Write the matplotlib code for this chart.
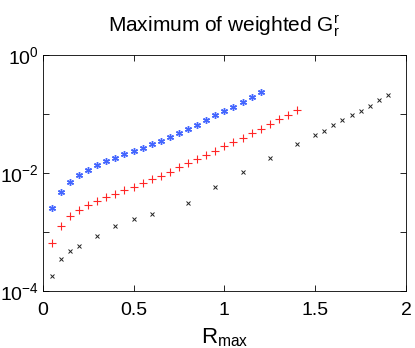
import numpy as np
import matplotlib.pyplot as plt
from matplotlib.ticker import NullLocator

plt.rcParams['font.family'] = ['Liberation Sans', 'DejaVu Sans']
plt.rcParams['mathtext.default'] = 'regular'

# blue series (*)
rBlue = [0.05 * i for i in range(1, 25)]
gBlue = [2.51e-3, 4.81e-3, 7.1e-3, 9.2e-3, 1.145e-2, 1.36e-2, 1.58e-2, 1.83e-2,
         2.08e-2, 2.37e-2, 2.70e-2, 3.11e-2, 3.54e-2, 4.03e-2, 4.84e-2, 5.51e-2,
         6.6e-2, 7.9e-2, 9.5e-2, 0.1124, 0.133, 0.160, 0.191, 0.232]

# red series (+)
rRed = [0.05 * i for i in range(1, 29)]
gRed = [6.6e-4, 1.28e-3, 1.86e-3, 2.38e-3, 2.90e-3, 3.39e-3, 3.91e-3, 4.45e-3,
        5.06e-3, 5.77e-3, 6.65e-3, 7.77e-3, 8.96e-3, 1.06e-2, 1.24e-2, 1.47e-2,
        1.73e-2, 2.03e-2, 2.40e-2, 2.84e-2, 3.37e-2, 3.98e-2, 4.71e-2, 5.57e-2,
        6.78e-2, 8.13e-2, 9.75e-2, 0.117]

# black series (x)
rBlack = [0.05, 0.1, 0.15, 0.2, 0.3, 0.4, 0.5, 0.6, 0.8, 0.95, 1.1, 1.25, 1.4,
          1.5, 1.55, 1.6, 1.65, 1.7, 1.75, 1.8, 1.85, 1.9]
gBlack = [1.83e-4, 3.45e-4, 4.84e-4, 5.87e-4, 8.67e-4, 1.26e-3, 1.66e-3, 1.99e-3,
          3.05e-3, 5.84e-3, 1.05e-2, 1.83e-2, 3.07e-2, 4.35e-2, 5.22e-2, 6.43e-2,
          7.81e-2, 9.49e-2, 0.1138, 0.138, 0.170, 0.212]

yTicks = [1e-4, 1e-3, 1e-2, 1e-1, 1]
yTickLabels = ['10$^{-4}$', '', '10$^{-2}$', '', '10$^{0}$']
xTicks = [0, 0.5, 1, 1.5, 2]
xTickLabels = ['0', '0.5', '1', '1.5', '2']

fig = plt.figure(figsize=(4.15, 3.48), dpi=100)
ax = fig.add_axes([42.7 / 415, 1 - 291 / 348, (406 - 42.7) / 415, (291 - 55) / 348])

ax.plot(rBlue, gBlue, linestyle='none', marker=(6, 2, 0), color='#4466ff', markersize=5, markeredgewidth=1.0)
ax.plot(rRed, gRed, linestyle='none', marker='+', color='#ff2626', markersize=5.5, markeredgewidth=0.8)
ax.plot(rBlack, gBlack, linestyle='none', marker='x', color='#222222', markersize=3.5, markeredgewidth=0.7)

ax.set_yscale('log')
ax.set_xlim(0, 2)
ax.set_ylim(1e-4, 1)
ax.set_xticks(xTicks)
ax.set_xticklabels(xTickLabels)
ax.set_yticks(yTicks)
ax.set_yticklabels(yTickLabels)
ax.yaxis.set_minor_locator(NullLocator())
ax.tick_params(direction='in', top=True, right=True, labelsize=14, length=4, width=0.6, pad=8)
ax.tick_params(axis='y', labelsize=14, pad=3)
for s in ax.spines.values():
    s.set_linewidth(0.6)

ax.set_title('Maximum of weighted G$^r_r$', fontsize=15, pad=17)
ax.set_xlabel('R$_{max}$', fontsize=16, labelpad=5)

fig.savefig('out.png', dpi=100)
